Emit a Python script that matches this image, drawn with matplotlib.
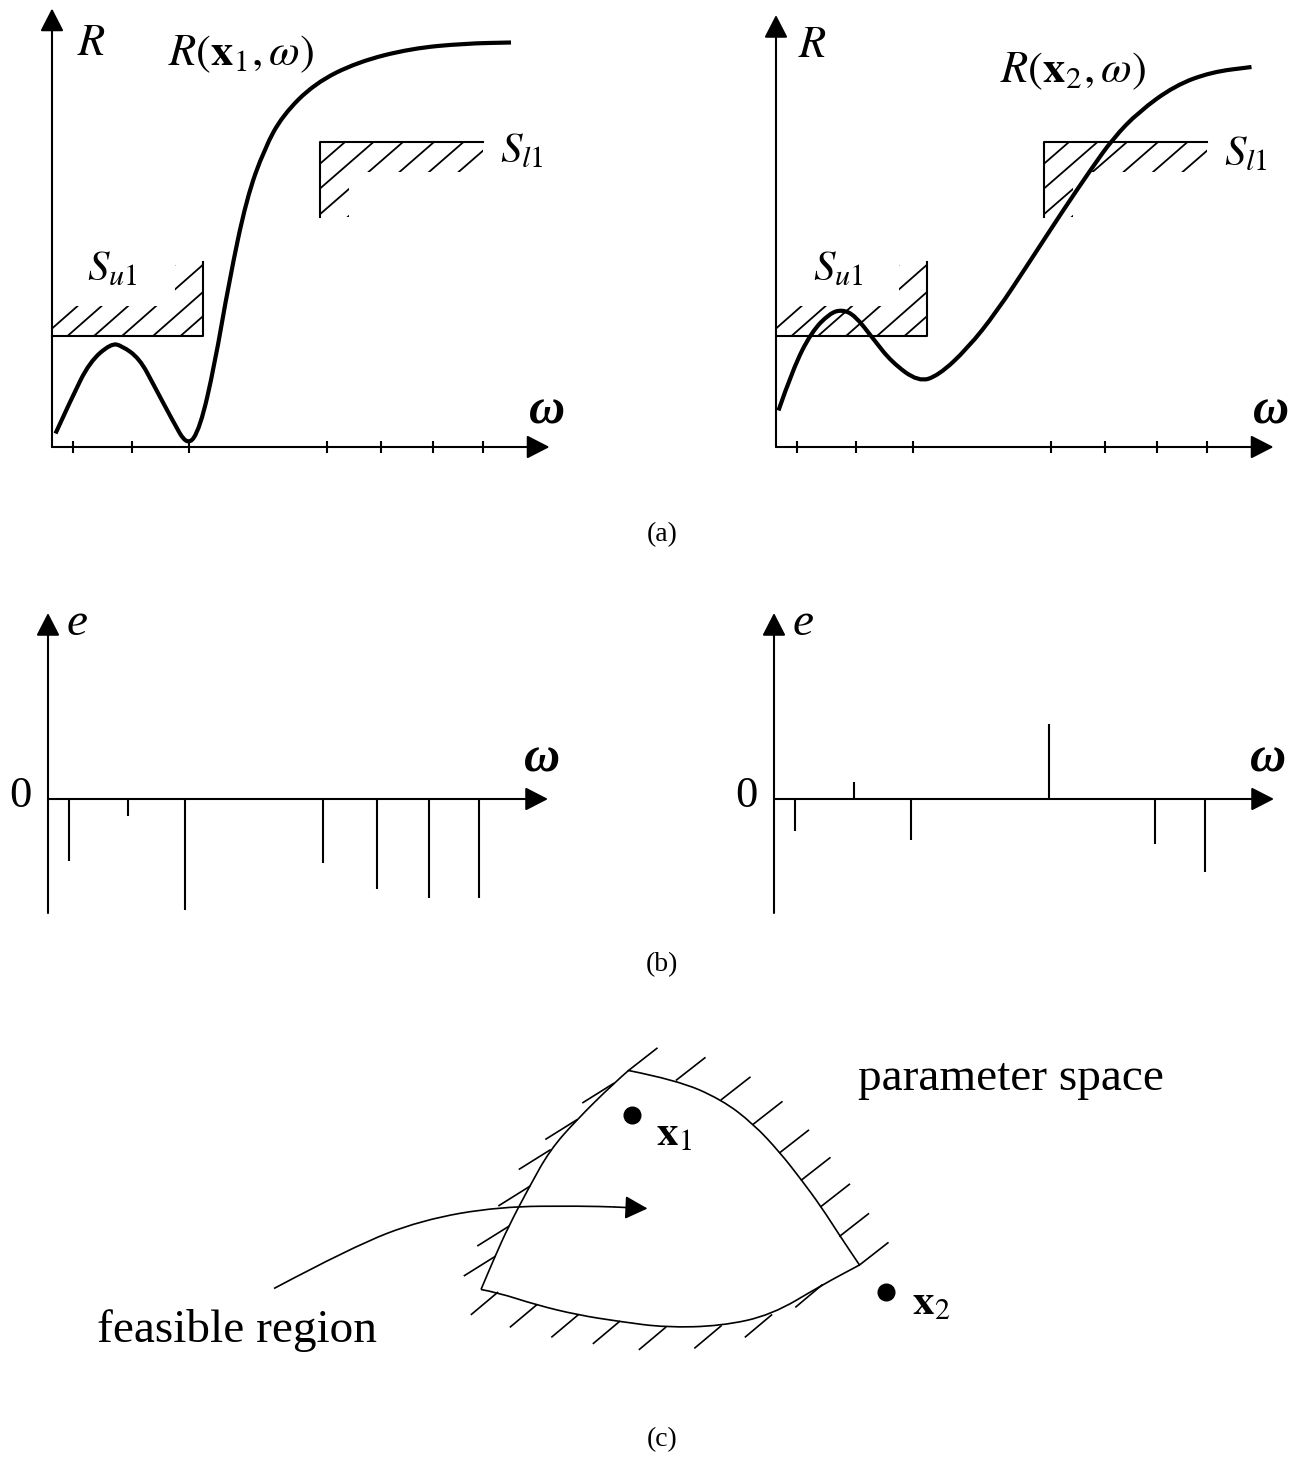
import numpy as np
import matplotlib
matplotlib.use("Agg")
import matplotlib.pyplot as plt
from matplotlib.path import Path
from matplotlib.patches import PathPatch, Polygon

plt.rcParams['font.family'] = ['Liberation Serif', 'DejaVu Serif']
plt.rcParams['mathtext.fontset'] = 'stix'

W, H = 1291, 1458
UNIT = 50.0  # pixels per data unit, same in x and y for every panel

# ---------------- data ----------------
# sample frequencies (ticks in (a), stems in (b))
omega_ticks = [0.41, 1.60, 2.73, 5.49, 6.57, 7.62, 8.62]

# response R(x1, w)
r1_omega = [0.07, 0.39, 0.75, 1.18, 1.39, 1.75, 2.04, 2.39, 2.71, 2.96,
            3.25, 3.54, 3.89, 4.25, 4.61, 5.25, 6.11, 7.18, 8.25, 9.18]
r1_vals = [0.27, 0.97, 1.70, 2.07, 2.03, 1.77, 1.23, 0.57, 0.00, 0.37,
           1.63, 3.30, 4.97, 5.97, 6.63, 7.27, 7.70, 7.97, 8.07, 8.09]

# response R(x2, w)
r2_omega = [0.05, 0.34, 0.71, 1.07, 1.32, 1.58, 1.94, 2.31, 2.85, 3.25,
            3.83, 4.41, 5.07, 5.72, 6.31, 6.74, 7.25, 7.98, 8.71, 9.51]
r2_vals = [0.73, 1.57, 2.30, 2.67, 2.75, 2.63, 2.17, 1.70, 1.30, 1.43,
           1.97, 2.70, 3.70, 4.70, 5.57, 6.17, 6.70, 7.23, 7.50, 7.60]

# specifications
su1_level, su1_end, su1_top = 2.22, 3.02, 3.71
sl1_level, sl1_start, sl1_end, sl1_bottom = 6.10, 5.36, 8.62, 4.60

# errors e at the sample frequencies
e1 = [-1.23, -0.34, -2.21, -1.27, -1.79, -1.97, -1.97]
e2 = [-0.63, 0.35, -0.82, 1.50, 0.0, -0.90, -1.45]

# parameter space (c): boundary of the feasible region
top_x = [12.57, 13.53, 14.43, 15.07, 15.60, 16.03, 16.42, 16.80, 17.19]
top_y = [7.75, 7.56, 7.17, 6.68, 6.11, 5.56, 5.03, 4.44, 3.86]
left_x = [12.57, 12.27, 11.53, 11.00, 10.59, 10.17, 9.90, 9.62]
left_y = [7.75, 7.49, 6.76, 6.16, 5.43, 4.63, 4.03, 3.37]
bottom_x = [9.62, 9.95, 10.73, 11.56, 12.39, 13.31, 14.42, 15.43, 16.44, 17.19]
bottom_y = [3.37, 3.31, 3.06, 2.86, 2.73, 2.61, 2.64, 2.86, 3.46, 3.86]
pointer_x = [5.48, 7.04, 8.43, 9.99, 11.65, 12.30]
pointer_y = [3.39, 4.22, 4.76, 5.03, 5.04, 5.02]
pointer_tip = (12.95, 4.99)
x1_pt = (12.63, 6.86)
x2_pt = (17.71, 3.33)

fig = plt.figure(figsize=(W / 100, H / 100), dpi=100)


def panel_axes(name, ox, oy):
    ax = fig.add_axes([0, 0, 1, 1], label=name)
    ax.set_xlim(-ox / UNIT, (W - ox) / UNIT)
    ax.set_ylim(-(H - oy) / UNIT, oy / UNIT)
    ax.axis('off')
    ax.patch.set_visible(False)
    return ax


def arrow(ax, start, end, lw=1.5):
    ax.annotate('', xy=end, xytext=start,
                arrowprops=dict(arrowstyle='-|>,head_length=0.7,head_width=0.36',
                                lw=lw, color='k', shrinkA=0, shrinkB=0,
                                mutation_scale=20))


def smooth(xs, ys):
    pts = np.column_stack([xs, ys])
    verts = [pts[0]]
    codes = [Path.MOVETO]
    for i in range(1, len(pts) - 1):
        verts += [pts[i], (pts[i] + pts[i + 1]) / 2]
        codes += [Path.CURVE3, Path.CURVE3]
    verts.append(pts[-1])
    codes.append(Path.LINETO)
    return Path(verts, codes)


def draw_curve(ax, xs, ys, lw):
    ax.add_patch(PathPatch(smooth(xs, ys), fc='none', ec='k', lw=lw,
                           joinstyle='round', capstyle='butt'))


def hatch(ax, region, intercepts, level, slope, lw=1.3):
    clip = Polygon(region, closed=True, fc='none', ec='none')
    ax.add_patch(clip)
    for c in intercepts:
        ln, = ax.plot([c - 3, c + 3], [level - 3 * slope, level + 3 * slope],
                      color='k', lw=lw, solid_capstyle='butt')
        ln.set_clip_path(clip)


def response_panel(name, ox, y_tip, r_om, r_val, curve_label, lab_pos, r_pos,
                   su_pos, sl_pos):
    ax = panel_axes(name, ox, 447)
    arrow(ax, (0, 0), (0, y_tip))
    arrow(ax, (0, 0), (9.95, 0))
    ax.vlines(omega_ticks, -0.12, 0.12, color='k', lw=1.5)

    # S_u1 upper spec
    ax.plot([0, su1_end, su1_end], [su1_level, su1_level, su1_top], color='k', lw=1.5)
    band = 0.6
    reg = [(0, su1_level), (su1_end, su1_level), (su1_end, su1_top),
           (su1_end - 0.56, su1_top - 0.08), (su1_end - 0.56, su1_level + band),
           (0, su1_level + band)]
    hatch(ax, reg, [-0.17, 0.31, 0.84, 1.40, 2.02, 2.57], su1_level, 0.88)

    # S_l1 lower spec
    ax.plot([sl1_end, sl1_start, sl1_start], [sl1_level, sl1_level, sl1_bottom],
            color='k', lw=1.5)
    reg = [(sl1_start, sl1_level), (sl1_end, sl1_level), (sl1_end, sl1_level - band),
           (sl1_start + 0.57, sl1_level - band), (sl1_start + 0.57, sl1_bottom),
           (sl1_start, sl1_bottom)]
    hatch(ax, reg, [5.86, 6.43, 7.02, 7.64, 8.23, 8.82], sl1_level, 0.87)

    draw_curve(ax, r_om, r_val, 3.0)

    ax.text(*r_pos, '$R$', fontsize=32, ha='left', va='baseline')
    ax.text(*lab_pos, curve_label, fontsize=32, ha='left', va='baseline')
    ax.text(*su_pos, '$S_{u1}$', fontsize=31, ha='left', va='baseline')
    ax.text(*sl_pos, '$S_{l1}$', fontsize=31, ha='left', va='baseline')
    ax.text(9.53, 0.48, 'ω', fontsize=36, style='italic', weight='bold',
            ha='left', va='baseline')


response_panel('a1', 52, 8.77, r1_omega, r1_vals, r'$R(\mathbf{x}_1, \omega)$',
               (2.32, 7.64), (0.50, 7.84), (0.70, 3.34), (8.96, 5.70))
response_panel('a2', 776, 8.64, r2_omega, r2_vals, r'$R(\mathbf{x}_2, \omega)$',
               (4.48, 7.30), (0.44, 7.80), (0.74, 3.34), (8.95, 5.64))


def error_panel(name, ox, errs):
    ax = panel_axes(name, ox, 799)
    arrow(ax, (0, -2.28), (0, 3.72))
    arrow(ax, (0, 0), (10.0, 0))
    ax.vlines(omega_ticks, 0, errs, color='k', lw=1.5)
    ax.text(-0.55, 0.06, '0', fontsize=32, ha='center', va='center')
    ax.text(0.58, 3.5, 'e', fontsize=34, style='italic', ha='center', va='center')
    ax.text(9.88, 0.78, 'ω', fontsize=36, style='italic', weight='bold',
            ha='center', va='center')


error_panel('b1', 48, e1)
error_panel('b2', 774, e2)

# ---------------- (c) parameter space ----------------
ax = panel_axes('c', 0, H)
for xs, ys in [(top_x, top_y), (left_x, left_y), (bottom_x, bottom_y)]:
    draw_curve(ax, xs, ys, 1.2)


def barbs(xs, ys, angle, length):
    a = np.deg2rad(angle)
    for x, y in zip(xs, ys):
        ax.plot([x, x + length * np.cos(a)], [y, y + length * np.sin(a)],
                color='k', lw=1.2)


barbs(top_x, top_y, 38, 0.72)
barbs(left_x[1:-1], left_y[1:-1], 212, 0.72)
barbs(bottom_x[1:-1], bottom_y[1:-1], 220, 0.68)

draw_curve(ax, pointer_x, pointer_y, 1.2)
ax.annotate('', xy=pointer_tip, xytext=(pointer_x[-1], pointer_y[-1]),
            arrowprops=dict(arrowstyle='-|>,head_length=0.7,head_width=0.36',
                            lw=1.2, color='k', shrinkA=0, shrinkB=0,
                            mutation_scale=20))

ax.plot(*x1_pt, 'o', ms=12, color='k')
ax.plot(*x2_pt, 'o', ms=12, color='k')
ax.text(13.13, 6.25, r'$\mathbf{x}_1$', fontsize=31, ha='left', va='baseline')
ax.text(18.24, 2.88, r'$\mathbf{x}_2$', fontsize=31, ha='left', va='baseline')
ax.text(17.16, 7.36, 'parameter space', fontsize=34, ha='left', va='baseline')
ax.text(1.94, 2.33, 'feasible region', fontsize=34, ha='left', va='baseline')

# captions
for lab, yy in [('(a)', 535), ('(b)', 965), ('(c)', 1440)]:
    fig.text(662 / W, 1 - yy / H, lab, fontsize=20, ha='center', va='center')

fig.savefig('out.png', dpi=100)
